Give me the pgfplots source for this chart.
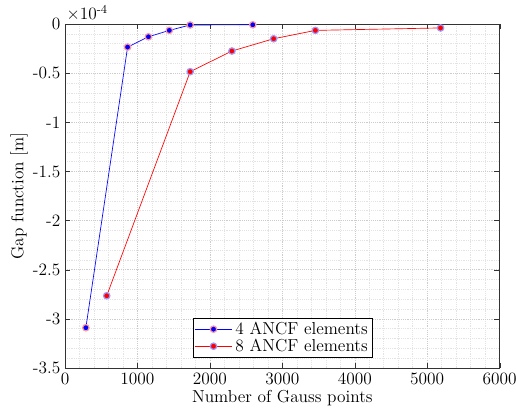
\documentclass[border=0pt]{standalone}
\usepackage{fontspec}
\usepackage{pgfplots}
\pgfplotsset{compat=1.18}
\newcommand{\fs}{\fontsize{13}{15}\selectfont}
\begin{document}
\begin{tikzpicture}[x=1pt,y=1pt]
\begin{axis}[
  at={(0,0)}, anchor=south west,
  scale only axis, width=326pt, height=258pt,
  xmin=0, xmax=6000, ymin=-3.5, ymax=0,
  xtick={0,1000,...,6000}, ytick={-3.5,-3,...,0},
  minor x tick num=4, minor y tick num=4,
  scaled x ticks=false,
  /pgf/number format/assume math mode=true,
  xticklabel style={/pgf/number format/fixed, /pgf/number format/1000 sep={}, font=\fs},
  yticklabel style={/pgf/number format/fixed, font=\fs},
  grid=both,
  major grid style={densely dotted, gray!40},
  minor grid style={densely dotted, gray!22},
  tick align=inside,
  major tick length=4pt, minor tick length=0pt,
  axis line style={black!80},
  tick style={black!80},
  xlabel={Number of Gauss points},
  ylabel={Gap function [m]},
  label style={font=\fs},
  xlabel style={yshift=3pt},
  ylabel style={yshift=-3pt},
  legend style={at={(0.5,0.03)}, anchor=south, draw=black, fill=white, font=\fs, inner sep=1pt, row sep=-2pt},
  legend cell align=left,
  legend image code/.code={\draw[#1,mark repeat=2,mark phase=2] plot coordinates {(0cm,0cm) (0.5cm,0cm) (1cm,0cm)};},
  clip=false,
]
\addplot[blue, line width=0.5pt, mark=*, mark size=2.4pt, mark options={fill=blue, draw=red!40, line width=0.9pt}] coordinates {
 (288,-3.09) (864,-0.235) (1152,-0.13) (1440,-0.065) (1728,-0.01) (2592,-0.008)
};
\addlegendentry{4 ANCF elements}
\addplot[red, line width=0.5pt, mark=*, mark size=2.4pt, mark options={fill=red, draw=blue!40, line width=0.9pt}] coordinates {
 (576,-2.765) (1728,-0.485) (2304,-0.275) (2880,-0.15) (3456,-0.065) (5184,-0.04)
};
\addlegendentry{8 ANCF elements}
\end{axis}
\node[anchor=south west, inner sep=0pt] at (1pt,261pt) {\fs ×10\textsuperscript{-4}};
\pgfresetboundingbox
\path (-48.75pt,-34.5pt) rectangle (338.25pt,276pt);
\end{tikzpicture}
\end{document}
